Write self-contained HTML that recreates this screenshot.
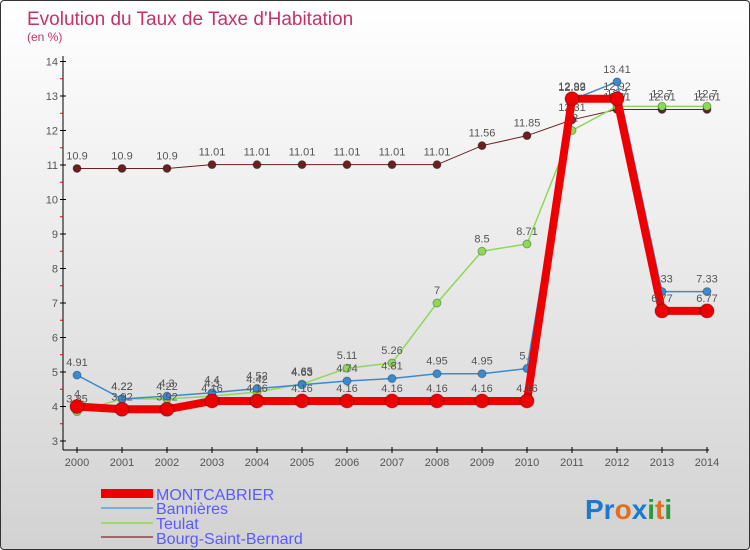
<!DOCTYPE html>
<html><head><meta charset="utf-8"><style>
body{margin:0}
#c{width:748px;height:548px;border:1px solid #333;border-radius:4px;overflow:hidden;background:linear-gradient(#fff,#d2d2d2);position:relative;font-family:"Liberation Sans",sans-serif}
</style></head><body>
<div id="c">
<svg id="s" width="748" height="548" style="position:absolute;left:0;top:0">
<text x="26" y="24" font-size="19" fill="#c8306a">Evolution du Taux de Taxe d'Habitation</text>
<text x="26" y="40" font-size="12" fill="#c8306a">(en %)</text>
<g id="g"></g>
<g>
<rect x="100" y="488" width="52" height="9" fill="#e00"/>
<text x="155" y="499" font-size="16" fill="#5a5aff">MONTCABRIER</text>
<line x1="100" y1="507" x2="152" y2="507" stroke="#7aaed6" stroke-width="2"/>
<text x="155" y="513" font-size="16" fill="#5a5aff">Bannières</text>
<line x1="100" y1="522" x2="152" y2="522" stroke="#9ed870" stroke-width="2"/>
<text x="155" y="528" font-size="16" fill="#5a5aff">Teulat</text>
<line x1="100" y1="536" x2="152" y2="536" stroke="#9a6a6a" stroke-width="2"/>
<text x="155" y="543" font-size="16" fill="#5a5aff">Bourg-Saint-Bernard</text>
</g>
<text x="584" y="518" font-size="28" font-weight="bold"><tspan fill="#1a7ad0">Pr</tspan><tspan fill="#e07020">o</tspan><tspan fill="#1a7ad0">x</tspan><tspan fill="#2a9a3a">i</tspan><tspan fill="#e07020">t</tspan><tspan fill="#2a9a3a">i</tspan></text>
</svg>
</div>
<script>
const years=[2000,2001,2002,2003,2004,2005,2006,2007,2008,2009,2010,2011,2012,2013,2014];
const yTicks=[3,4,5,6,7,8,9,10,11,12,13,14];
const montcabrier=[4,3.92,3.92,4.16,4.16,4.16,4.16,4.16,4.16,4.16,4.16,12.92,12.92,6.77,6.77];
const bannieres=[4.91,4.22,4.3,4.4,4.52,4.63,4.74,4.81,4.95,4.95,5.1,12.89,13.41,7.33,7.33];
const teulat=[3.85,4.22,4.22,4.3,4.42,4.65,5.11,5.26,7,8.5,8.71,12,12.7,12.7,12.7];
const bourg=[10.9,10.9,10.9,11.01,11.01,11.01,11.01,11.01,11.01,11.56,11.85,12.31,12.61,12.61,12.61];
const NS='http://www.w3.org/2000/svg',g=document.getElementById('g');
const X=i=>76+i*45, Y=v=>440-(v-3)*34.5;
function el(t,a){const e=document.createElementNS(NS,t);for(const k in a)e.setAttribute(k,a[k]);g.appendChild(e);return e;}
let e=el('line',{x1:62,y1:55,x2:62,y2:449,stroke:'#000'});


e=el('line',{x1:62,y1:449,x2:708,y2:449,stroke:'#000'});


yTicks.forEach(v=>{
 const t=el('text',{x:57,y:Y(v)+4,'font-size':11,fill:'#555','text-anchor':'end'});t.textContent=v;
 
 
 el('line',{x1:59,y1:Y(v),x2:65,y2:Y(v),stroke:'#000'});
 if(v<14)el('line',{x1:59,y1:Y(v+0.5),x2:62,y2:Y(v+0.5),stroke:'#e00'});
});
years.forEach((yr,i)=>{
 el('line',{x1:X(i),y1:446,x2:X(i),y2:452,stroke:'#000'});
 const t=el('text',{x:X(i),y:465,'font-size':11,fill:'#555','text-anchor':'middle'});t.textContent=yr;
 
 
});
function series(d,name,col,w,r,lab){
 const p=el('polyline',{points:d.map((v,i)=>X(i)+','+Y(v)).join(' '),fill:'none',stroke:col,'stroke-width':w});
 
 
 d.forEach((v,i)=>{
  const c=el('circle',{cx:X(i),cy:Y(v),r:r,fill:col,stroke:'rgba(0,0,0,0.3)'});
  
  
  if(lab){const t=el('text',{x:X(i),y:Y(v)-9,'font-size':11,fill:'#555','text-anchor':'middle'});t.textContent=v;
  
  }
 });
}
series(bourg,'bourg-saint-bernard','#6a2020',1,4,true);
series(teulat,'teulat','#8ed858',1.5,4,true);
series(bannieres,'bannieres','#3a8ad0',1.5,4,true);
series(montcabrier,'montcabrier','#e00',8,7,false);
montcabrier.forEach((v,i)=>{const t=el('text',{x:X(i),y:Y(v)-9,'font-size':11,fill:'#555','text-anchor':'middle'});t.textContent=v;
 
 });
</script>
</body></html>
